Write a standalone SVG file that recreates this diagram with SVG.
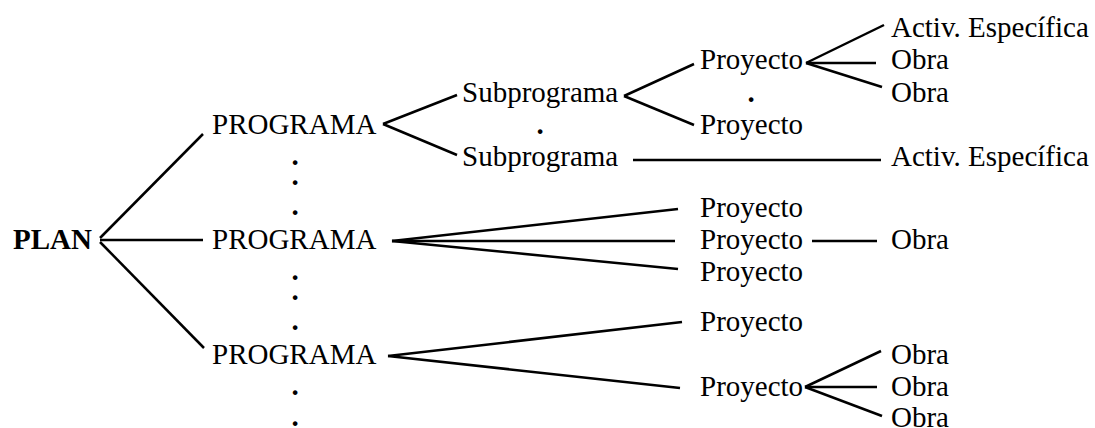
<svg xmlns="http://www.w3.org/2000/svg" width="1095" height="428" viewBox="0 0 1095 428">
<style>
text{font-family:"Liberation Serif","Times New Roman",serif;font-size:29px;fill:#000}
.b{font-weight:bold}
.d{text-anchor:middle;font-weight:bold}
.c line{stroke:#000;stroke-width:2.5;stroke-linecap:butt}
</style>
<rect width="1095" height="428" fill="#fff"/>
<g class="c" id="connectors">
<line x1="100" y1="238" x2="203" y2="134"/>
<line x1="100" y1="240" x2="203" y2="240"/>
<line x1="100" y1="242" x2="204" y2="348"/>
<line x1="383" y1="124" x2="457" y2="95"/>
<line x1="383" y1="124" x2="457" y2="155"/>
<line x1="624" y1="96" x2="694" y2="64"/>
<line x1="624" y1="96" x2="694" y2="125"/>
<line x1="806" y1="63" x2="884" y2="25"/>
<line x1="806" y1="63" x2="876" y2="63"/>
<line x1="806" y1="63" x2="882" y2="87"/>
<line x1="633" y1="160" x2="881" y2="160"/>
<line x1="392" y1="241" x2="678" y2="209"/>
<line x1="392" y1="241" x2="675" y2="241"/>
<line x1="392" y1="241" x2="678" y2="269"/>
<line x1="812" y1="241" x2="877" y2="241"/>
<line x1="388" y1="356" x2="682" y2="322"/>
<line x1="388" y1="356" x2="680" y2="388"/>
<line x1="805" y1="387" x2="881" y2="351"/>
<line x1="805" y1="387" x2="877" y2="387"/>
<line x1="805" y1="387" x2="882" y2="416"/>
</g>
<g id="plan"><text class="b" x="13" y="249">PLAN</text></g>
<g id="programa1"><text x="212" y="134">PROGRAMA</text></g>
<g id="programa2"><text x="212" y="249">PROGRAMA</text></g>
<g id="programa3"><text x="212" y="364">PROGRAMA</text></g>
<g id="dots">
<text class="d" x="295" y="165">.</text>
<text class="d" x="295" y="185">.</text>
<text class="d" x="295" y="215">.</text>
<text class="d" x="295" y="280">.</text>
<text class="d" x="295" y="300">.</text>
<text class="d" x="295" y="330">.</text>
<text class="d" x="295" y="395">.</text>
<text class="d" x="295" y="426">.</text>
<text class="d" x="540" y="134">.</text>
<text class="d" x="751" y="102">.</text>
</g>
<g id="subprograma1"><text x="462" y="102">Subprograma</text></g>
<g id="subprograma2"><text x="462" y="166">Subprograma</text></g>
<g id="proyecto1"><text x="700" y="69">Proyecto</text></g>
<g id="proyecto2"><text x="700" y="134">Proyecto</text></g>
<g id="activ1"><text x="891" y="37">Activ. Específica</text></g>
<g id="obra1"><text x="891" y="69">Obra</text></g>
<g id="obra2"><text x="891" y="102">Obra</text></g>
<g id="activ2"><text x="891" y="166">Activ. Específica</text></g>
<g id="proyecto3"><text x="700" y="217">Proyecto</text></g>
<g id="proyecto4"><text x="700" y="249">Proyecto</text></g>
<g id="proyecto5"><text x="700" y="281">Proyecto</text></g>
<g id="obra3"><text x="891" y="249">Obra</text></g>
<g id="proyecto6"><text x="700" y="331">Proyecto</text></g>
<g id="proyecto7"><text x="700" y="396">Proyecto</text></g>
<g id="obra4"><text x="891" y="364">Obra</text></g>
<g id="obra5"><text x="891" y="396">Obra</text></g>
<g id="obra6"><text x="891" y="427">Obra</text></g>
</svg>
